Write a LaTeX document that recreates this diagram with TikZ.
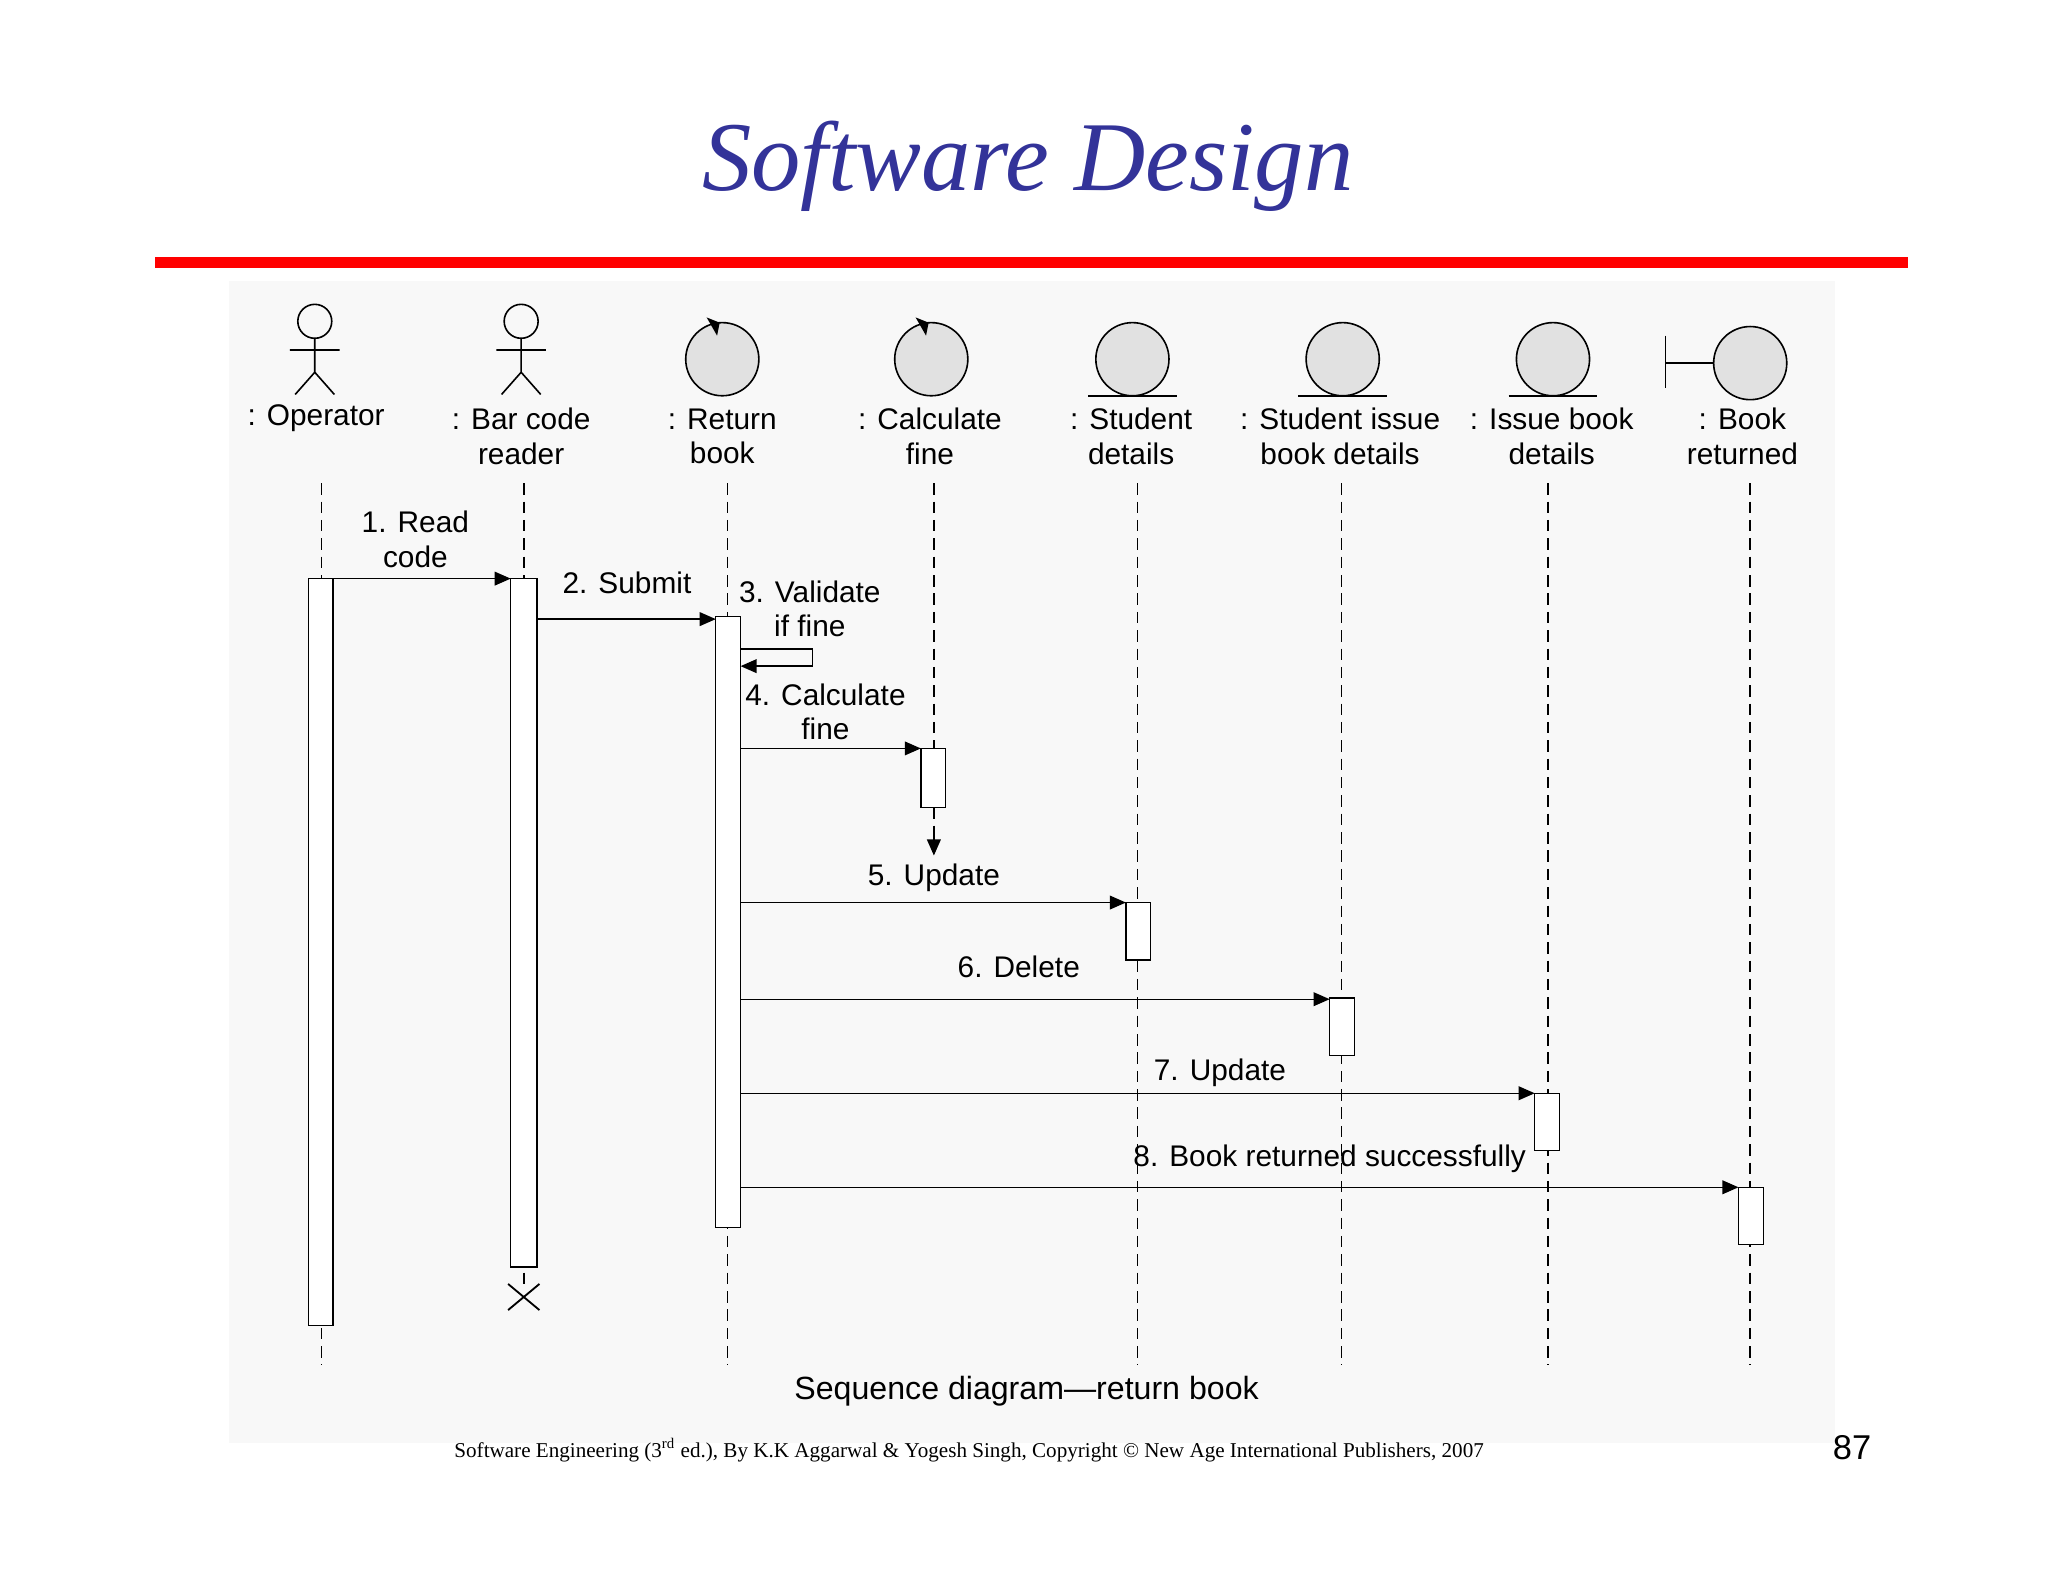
\documentclass[tikz,border=0pt]{standalone}
\usepackage{fontspec}
\setmainfont{Liberation Sans}
\newfontfamily\serif{Liberation Serif}
\usetikzlibrary{arrows.meta}
\definecolor{titleblue}{RGB}{51,51,153}
\definecolor{bggray}{RGB}{248,248,248}
\definecolor{iconfill}{RGB}{225,225,225}
\tikzset{
  msg/.style={-{Triangle[length=7pt,width=6pt]}, line width=0.6pt},
  life/.style={dashed, line width=0.7pt, dash pattern=on 5pt off 3pt},
  act/.style={draw, fill=white, line width=0.6pt},
  lbl/.style={font=\fontsize{13}{15}\selectfont, align=center, inner sep=1pt},
  icon/.style={draw, fill=iconfill, line width=0.7pt},
}
\begin{document}
\begin{tikzpicture}[x=0.02cm,y=-0.02cm]
\useasboundingbox (0,0) rectangle (1568,1211);
\fill[white] (0,0) rectangle (1568,1211);
\fill[bggray] (175,215) rectangle (1405,1105);
\node[font=\serif\itshape\fontsize{43}{48}\selectfont, text=titleblue] (title) at (787,127) {Software Design};
\draw[red, line width=4.5pt] (119,201) -- (1461,201);
% actors
\foreach \x/\n in {241/a1,399/a2}{
  \draw[line width=0.7pt] (\x,246) circle (13);
  \draw[line width=0.7pt] (\x,259) -- (\x,285) (\x-19,268) -- (\x+19,268) (\x-15,302) -- (\x,285) -- (\x+15,302);
}
% control
\foreach \x in {553,713}{
  \draw[icon] (\x,275) circle (28);
  \fill (\x-12,243) -- (\x-2,247) -- (\x-4,257) -- cycle;
}
% entities
\foreach \x in {867,1028,1189}{
  \draw[icon] (\x,275) circle (28);
  \draw[line width=0.7pt] (\x-34,303) -- (\x+34,303);
}
% boundary
\draw[icon] (1340,278) circle (28);
\draw[line width=0.7pt] (1275,257) -- (1275,297) (1275,278) -- (1312,278);
% names
\node[lbl] (n1) at (242,320) {: Operator};
\node[lbl] (n2) at (399,334) {: Bar code\\reader};
\node[lbl] (n3) at (553,334) {: Return\\book};
\node[lbl] (n4) at (712,334) {: Calculate\\fine};
\node[lbl] (n5) at (866,334) {: Student\\details};
\node[lbl] (n6) at (1026,334) {: Student issue\\book details};
\node[lbl] (n7) at (1188,334) {: Issue book\\details};
\node[lbl] (n8) at (1334,334) {: Book\\returned};
% lifelines
\foreach \x in {246,557,871,1027,1185,1340}{ \draw[life] (\x,370) -- (\x,1045); }
\draw[life] (401,370) -- (401,985);
\draw[life] (715,370) -- (715,573);
\draw[life] (715,618) -- (715,645);
\draw[-{Triangle[length=7pt,width=6pt]}, line width=0.6pt] (715,640) -- (715,655);
% activations
\draw[act] (236,443) rectangle (255,1015);
\draw[act] (391,443) rectangle (411,970);
\draw[act] (548,472) rectangle (567,940);
\draw[act] (705,573) rectangle (724,618);
\draw[act] (862,691) rectangle (881,735);
\draw[act] (1018,764) rectangle (1037,808);
\draw[act] (1175,837) rectangle (1194,881);
\draw[act] (1331,909) rectangle (1350,953);
\draw[line width=0.8pt] (389,983) -- (413,1003) (389,1003) -- (413,983);
% messages
\coordinate (m1a) at (255,443); \coordinate (m1b) at (391,443);
\draw[msg] (m1a) -- (m1b);
\node[lbl] at (318,413) {1. Read\\code};
\coordinate (m2a) at (411,474); \coordinate (m2b) at (548,474);
\draw[msg] (m2a) -- (m2b);
\node[lbl] at (480,446) {2. Submit};
\coordinate (m3a) at (567,497); \coordinate (m3b) at (567,510);
\draw[msg] (m3a) -- (622,497) -- (622,510) -- (m3b);
\node[lbl] at (620,466) {3. Validate\\if fine};
\coordinate (m4a) at (567,573); \coordinate (m4b) at (705,573);
\draw[msg] (m4a) -- (m4b);
\node[lbl] at (632,545) {4. Calculate\\fine};
\draw[msg] (567,691) -- (862,691);
\node[lbl] at (715,672) {5. Update};
\draw[msg] (567,765) -- (1018,765);
\node[lbl] at (780,740) {6. Delete};
\draw[msg] (567,837) -- (1175,837);
\node[lbl] at (934,821) {7. Update};
\draw[msg] (567,909) -- (1331,909);
\node[lbl] at (1018,887) {8. Book returned successfully};
\node[font=\fontsize{14}{16}\selectfont] (cap) at (786,1065) {Sequence diagram---return book};
\node[font=\serif\fontsize{9.2}{11}\selectfont] (foot) at (742,1110) {Software Engineering (3\textsuperscript{rd} ed.), By K.K Aggarwal \& Yogesh Singh, Copyright \textcopyright{} New Age International Publishers, 2007};
\node[font=\fontsize{15}{17}\selectfont] (pg) at (1418,1108) {87};
\end{tikzpicture}
\end{document}
